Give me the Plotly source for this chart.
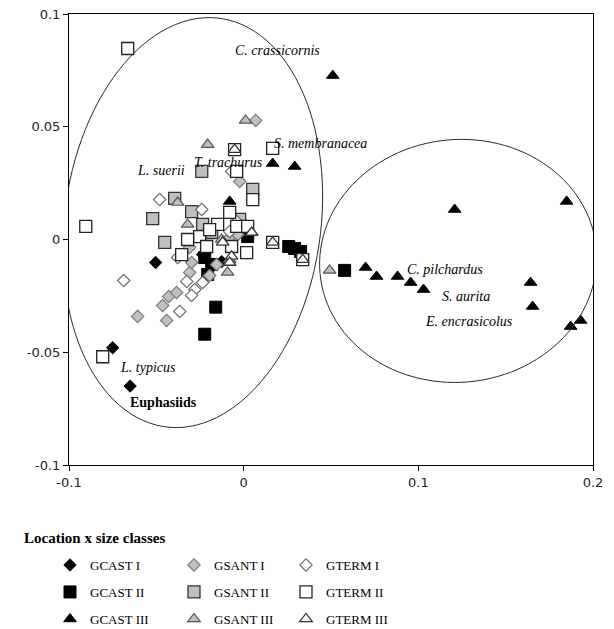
import numpy as np
import plotly.graph_objects as go

# ---------------- data ----------------
gcast1_x = [-0.0504, -0.075, -0.065, -0.0235, -0.0126]
gcast1_y = [-0.0102, -0.048, -0.065, -0.0067, -0.0098]

gcast2_x = [-0.016, -0.0223, 0.0258, 0.0292, 0.0326, 0.0578, -0.0206, -0.0183, -0.0223, 0.0023]
gcast2_y = [-0.030, -0.042, -0.0031, -0.0040, -0.0053, -0.0137, -0.0155, -0.0111, -0.0080, 0.0013]

gcast3_x = [0.051, 0.0166, 0.0292, -0.008, 0.0698, 0.0761, 0.0881, 0.0956, 0.103, 0.1208,
            0.1849, 0.1643, 0.1654, 0.1872, 0.1929, 0.0034]
gcast3_y = [0.0727, 0.0337, 0.0324, 0.0169, -0.0124, -0.0164, -0.0164, -0.0191, -0.0222, 0.0133,
            0.0169, -0.0191, -0.0297, -0.0386, -0.0359, 0.0031]

gsant1_x = [0.0069, -0.0023, -0.0607, -0.0441, -0.0464, -0.0429, -0.0384, -0.0309, -0.0298,
            -0.0155, -0.0195, -0.008, -0.0034, -0.0212, -0.0309]
gsant1_y = [0.0528, 0.0257, -0.0341, -0.0359, -0.0293, -0.0253, -0.0235, -0.0146, -0.0102,
            -0.0111, -0.016, 0.0009, 0.0022, 0.0053, -0.0035]

gsant2_x = [-0.024, 0.0052, -0.0521, -0.0452, -0.0395, -0.0298, -0.0183, -0.0235, -0.0023]
gsant2_y = [0.0302, 0.0222, 0.0093, -0.0013, 0.0182, 0.0124, 0.0031, 0.0067, 0.0089]

gsant3_x = [0.0011, -0.0206, -0.0378, -0.0321, 0.0492, -0.0092, -0.008, -0.0126]
gsant3_y = [0.0528, 0.0421, 0.0164, 0.0067, -0.0137, -0.0146, -0.0089, 0.0]

gterm1_x = [-0.0687, -0.0366, -0.0481, -0.024, -0.0069, 0.0052, -0.0378, -0.0326, -0.028,
            -0.0235, -0.0298, -0.008, -0.004]
gterm1_y = [-0.0182, -0.0319, 0.0177, 0.0133, 0.0302, 0.0177, -0.008, -0.0186, -0.0222,
            -0.0191, -0.0248, 0.0035, 0.008]

gterm2_x = [-0.0664, -0.0904, -0.0807, 0.0166, -0.0052, -0.004, -0.008, -0.0252, -0.0321,
            -0.0355, 0.0017, -0.0149, -0.0195, -0.004, 0.0023, -0.0069, -0.0212, 0.0166,
            0.0338, 0.0052]
gterm2_y = [0.0847, 0.0058, -0.052, 0.0404, 0.0399, 0.0302, 0.012, 0.0013, 0.0,
            -0.0067, -0.0058, 0.0067, 0.0044, 0.0058, 0.0058, -0.0031, -0.0031, -0.0013,
            -0.0089, 0.0177]

gterm3_x = [-0.0052, 0.0046, -0.0069, -0.012, 0.0166, 0.0338, -0.008]
gterm3_y = [0.0399, 0.0031, -0.0075, -0.0013, -0.0013, -0.0089, -0.0102]

series_names = ["GCAST I", "GCAST II", "GCAST III",
                "GSANT I", "GSANT II", "GSANT III",
                "GTERM I", "GTERM II", "GTERM III"]

species_labels = ["C. crassicornis", "S. membranacea", "T. trachurus", "L. suerii",
                  "L. typicus", "C. pilchardus", "S. aurita", "E. encrasicolus"]
species_x = [-0.0063, 0.016, -0.0298, -0.0624, -0.0721, 0.0922, 0.1122, 0.1025]
species_y = [0.0838, 0.0426, 0.0341, 0.0306, -0.0568, -0.0133, -0.0253, -0.0364]
bold_label = "Euphasiids"
bold_x, bold_y = -0.0664, -0.0723

x_ticks = [-0.1, 0.0, 0.1, 0.2]
x_ticktext = ["-0.1", "0", "0.1", "0.2"]
y_ticks = [-0.1, -0.05, 0.0, 0.05, 0.1]
y_ticktext = ["-0.1", "-0.05", "0", "0.05", "0.1"]

# ---------------- styles ----------------
W, H = 614, 629
ML, MR, MT, MB = 69, 21, 14, 164
PW, PH = W - ML - MR, H - MT - MB

def px_x(p):
    return (p - ML) / PW

def px_y(p):
    return (H - MB - p) / PH

GREY = "#c0c0c0"
styles = {
    "GCAST I":   dict(symbol="diamond", size=9.5, color="black", line=dict(color="black", width=1)),
    "GCAST II":  dict(symbol="square", size=12, color="black", line=dict(color="black", width=1)),
    "GCAST III": dict(symbol="triangle-up", size=11, color="black", line=dict(color="black", width=1)),
    "GSANT I":   dict(symbol="diamond", size=9.5, color=GREY, line=dict(color="#7a7a7a", width=1.2)),
    "GSANT II":  dict(symbol="square", size=12, color=GREY, line=dict(color="#333333", width=1.3)),
    "GSANT III": dict(symbol="triangle-up", size=11, color=GREY, line=dict(color="#555555", width=1.2)),
    "GTERM I":   dict(symbol="diamond", size=9.5, color="white", line=dict(color="#6a6a6a", width=1.2)),
    "GTERM II":  dict(symbol="square", size=12, color="white", line=dict(color="#222222", width=1.3)),
    "GTERM III": dict(symbol="triangle-up", size=11, color="white", line=dict(color="#333333", width=1.3)),
}

# legend grid: column (by location) and row (by size class)
col_text_px = {"GCAST": 90, "GSANT": 214, "GTERM": 326}
row_px = {"I": 565, "II": 592, "III": 619}

data_xy = {
    "GCAST I": (gcast1_x, gcast1_y), "GCAST II": (gcast2_x, gcast2_y), "GCAST III": (gcast3_x, gcast3_y),
    "GSANT I": (gsant1_x, gsant1_y), "GSANT II": (gsant2_x, gsant2_y), "GSANT III": (gsant3_x, gsant3_y),
    "GTERM I": (gterm1_x, gterm1_y), "GTERM II": (gterm2_x, gterm2_y), "GTERM III": (gterm3_x, gterm3_y),
}

leg_common = dict(orientation="h", xanchor="left", yanchor="middle",
                  bgcolor="rgba(0,0,0,0)", borderwidth=0,
                  font=dict(family="Liberation Serif", size=13, color="black"),
                  itemclick=False, itemdoubleclick=False)

fig = go.Figure()
legend_layout = {}
for i, name in enumerate(series_names):
    xs, ys = data_xy[name]
    key = "legend" if i == 0 else f"legend{i + 1}"
    fig.add_trace(go.Scatter(x=xs, y=ys, mode="markers", name=name,
                             marker=styles[name], legend=key))
    loc, cls = name.split(" ")
    legend_layout[key] = dict(x=px_x(col_text_px[loc] - 40), y=px_y(row_px[cls]), **leg_common)

# ---------------- ellipses ----------------
def ellipse_path(cx, cy, a, b, shear):
    t = np.linspace(0, 2 * np.pi, 121)
    xs = cx + a * np.cos(t) + shear * np.sin(t)
    ys = cy + b * np.sin(t)
    return "M " + " L ".join(f"{x:.5f},{y:.5f}" for x, y in zip(xs, ys)) + " Z"

fig.add_shape(type="path", xref="x", yref="y",
              path=ellipse_path(-0.0292, 0.0075, 0.0738, 0.0909, 0.0095),
              line=dict(color="#2a2a2a", width=1))
fig.add_shape(type="path", xref="x", yref="y",
              path=ellipse_path(0.1228, -0.0095, 0.0793, 0.0539, 0.002),
              line=dict(color="#2a2a2a", width=1))

# ---------------- species labels ----------------
lab_font = dict(family="Liberation Serif", size=14, color="black", style="italic")
for txt, lx, ly in zip(species_labels, species_x, species_y):
    fig.add_annotation(x=lx, y=ly, xref="x", yref="y", text=txt, showarrow=False,
                       xanchor="left", yanchor="middle", font=lab_font)
fig.add_annotation(x=bold_x, y=bold_y, xref="x", yref="y", text=f"<b>{bold_label}</b>",
                   showarrow=False, xanchor="left", yanchor="middle",
                   font=dict(family="Liberation Serif", size=14, color="black"))

fig.add_annotation(x=px_x(22), y=px_y(538), xref="paper", yref="paper",
                   text="<b>Location x size classes</b>", showarrow=False,
                   xanchor="left", yanchor="middle",
                   font=dict(family="Liberation Serif", size=15, color="black"))

# ---------------- layout ----------------
axis_common = dict(showgrid=False, zeroline=False, showline=True, linecolor="black",
                   linewidth=1, mirror=True, ticks="outside", ticklen=5,
                   tickcolor="black", tickfont=dict(family="DejaVu Sans", size=13, color="#222"))

fig.update_layout(
    width=W, height=H,
    margin=dict(l=ML, r=MR, t=MT, b=MB, autoexpand=False),
    paper_bgcolor="white", plot_bgcolor="white",
    showlegend=True,
    xaxis=dict(range=[-0.1, 0.2], tickvals=x_ticks, ticktext=x_ticktext, **axis_common),
    yaxis=dict(range=[-0.1, 0.1], tickvals=y_ticks, ticktext=y_ticktext, **axis_common),
    **legend_layout,
)

fig.write_html("out.html", config={"displayModeBar": False},
               post_script="document.body.style.margin='0';document.body.style.overflow='hidden';")
